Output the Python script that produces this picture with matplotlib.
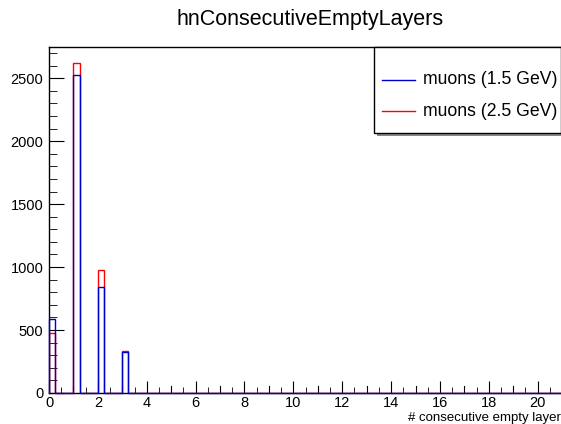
import numpy as np
import matplotlib.pyplot as plt
from matplotlib.patches import Rectangle
from matplotlib.lines import Line2D

plt.rcParams['font.family'] = ['Liberation Sans', 'DejaVu Sans']

# histogram: 84 bins of width 0.25 from 0 to 21, only a few filled
edges = np.arange(0, 21.0001, 0.25)
filled_bins = [0, 1, 2, 3]  # lower edges of the filled bins
counts_15 = [590, 2524, 839, 325]   # muons (1.5 GeV)
counts_25 = [474, 2617, 976, 333]   # muons (2.5 GeV)
labels = ["muons (1.5 GeV)", "muons (2.5 GeV)"]
colors = ["#0000cc", "#ff0000"]

def fill(counts):
    vals = np.zeros(len(edges) - 1)
    for b, c in zip(filled_bins, counts):
        vals[int(round(b / 0.25))] = c
    return vals

W, H = 561, 424
fig = plt.figure(figsize=(W / 100, H / 100), dpi=100)
ax = fig.add_axes([49 / W, 1 - 393 / H, 1 - 49 / W + 0.002, (393 - 47) / H])

ax.stairs(fill(counts_25), edges, color=colors[1], lw=1, zorder=3)
ax.stairs(fill(counts_15), edges, color=colors[0], lw=1, zorder=3.1, clip_on=False)

ax.set_xlim(0, 21)
ax.set_ylim(0, 2748)
ax.set_xticks(np.arange(0, 21, 2))
ax.set_xticks(np.arange(0, 21.01, 0.5), minor=True)
ax.set_yticks(np.arange(0, 2501, 500))
ax.set_yticks(np.arange(0, 2701, 100), minor=True)
ax.tick_params(which='both', direction='in', top=False, right=False, labelsize=10.5)
ax.tick_params(axis='y', which='major', length=11, pad=4)
ax.tick_params(axis='y', which='minor', length=5.5)
ax.tick_params(axis='x', which='major', length=9, pad=2)
ax.tick_params(axis='x', which='minor', length=4)
# medium ticks at odd integers, ROOT-style
for xo in range(1, 21, 2):
    ax.plot([xo, xo], [0, 55], color='k', lw=0.8, clip_on=False, zorder=1)
for s in ax.spines.values():
    s.set_linewidth(1)
ax.spines['right'].set_visible(False)

fig.text(310 / W, 1 - 20 / H, "hnConsecutiveEmptyLayers", ha='center', va='center', fontsize=15.5)
fig.text(561 / W, 1 - 418 / H, "# consecutive empty layer", ha='right', va='center', fontsize=9.5)

# legend box (ROOT TLegend with shadow)
x0, x1, y0, y1 = 374 / W, 1.0, 1 - 133 / H, 1 - 47 / H
fig.patches.append(Rectangle((x0 + 3 / W, y0 - 3 / H), x1 - x0, y1 - y0, transform=fig.transFigure,
                             facecolor='#888888', edgecolor='none', zorder=5))
fig.patches.append(Rectangle((x0, y0), x1 - x0, y1 - y0, transform=fig.transFigure,
                             facecolor='white', edgecolor='black', lw=1, zorder=6))
for ypix, lab, col in zip([80, 111], labels, colors):
    yy = 1 - ypix / H
    fig.lines.append(Line2D([382 / W, 415 / W], [yy, yy], transform=fig.transFigure,
                            color=col, lw=1, zorder=7))
    fig.text(423 / W, yy, lab, ha='left', va='center', fontsize=12.7, zorder=8)

fig.savefig("out.png", dpi=100)
